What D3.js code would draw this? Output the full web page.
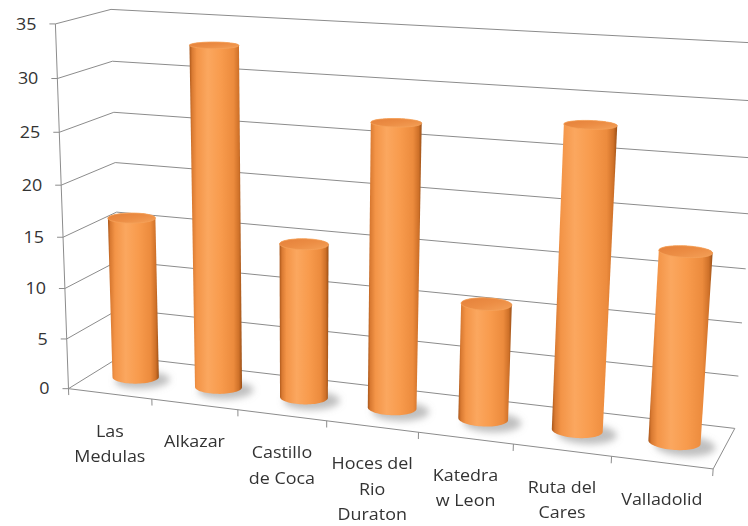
<!DOCTYPE html>
<html><head><meta charset="utf-8">
<script src="https://cdn.jsdelivr.net/npm/d3@7"></script>
<style>html,body{margin:0;padding:0;background:#fff;overflow:hidden}svg{display:block}</style>
</head><body>
<script>
// ---------- data ----------
const categories = ["Las\nMedulas", "Alkazar", "Castillo\nde Coca", "Hoces del\nRio\nDuraton", "Katedra\nw Leon", "Ruta del\nCares", "Valladolid"];
const values = [16, 33, 15, 27, 11, 28, 17.5];
const yTicks = [0, 5, 10, 15, 20, 25, 30, 35];

// ---------- layout / camera calibration (screen reference points of the 3D box) ----------
const W = 748, H = 526;
const nCat = categories.length;
const zScale = d3.scaleLinear().domain([0, 35]).range([0, 7]);
const xBand = d3.scaleBand().domain(categories).range([0, nCat]).paddingInner(0.48).paddingOuter(0.24);
const depthRatio = 1.4; // box depth in category units

const calib = [];
const frontAxisX = [71, 68, 66, 63, 61, 58, 55, 52], frontAxisY = [386, 337, 287, 237, 185, 132, 79, 25];
const backAxisX = [117, 117, 117, 116, 116, 115, 115, 114], backAxisY = [360, 310, 260, 212, 162, 112, 61, 10];
for (let i = 0; i < 8; i++) {
  calib.push([0, 0, i, frontAxisX[i], frontAxisY[i]]);
  calib.push([0, 1, i, backAxisX[i], backAxisY[i]]);
}
const floorX = [71, 155, 238, 327, 418, 513, 610, 714], floorY = [385, 398, 410, 422, 432, 446, 458, 471];
for (let k = 1; k < 8; k++) calib.push([k, 0, 0, floorX[k], floorY[k]]);
calib.push([7, 1, 0, 735, 425]);
const calibLines = [
  [[114, 10], [748, 44]], [[115, 61], [748, 100]], [[115, 112], [748, 157]],
  [[117, 260], [737, 322]], [[117, 310], [737, 374]]
].map(([A, B]) => {
  let a = A[1] - B[1], b = B[0] - A[0], c = A[0] * B[1] - B[0] * A[1];
  const n = Math.hypot(a, b); return [a / n, b / n, c / n, 6];
});

function fitCamera(pts, lines) {
  const rows = [], rhs = [];
  pts.forEach(([X, Y, Z, x, y]) => {
    rows.push([X, Y, Z, 1, 0, 0, 0, 0, -x * X, -x * Y, -x * Z]); rhs.push(x);
    rows.push([0, 0, 0, 0, X, Y, Z, 1, -y * X, -y * Y, -y * Z]); rhs.push(y);
  });
  lines.forEach(([a, b, c, wt]) => { rows.push([a * wt, 0, 0, 0, b * wt, 0, 0, 0, c * wt, 0, 0]); rhs.push(0); });
  const n = 11, M = Array.from({ length: n }, () => new Array(n + 1).fill(0));
  rows.forEach((r, i) => { for (let j = 0; j < n; j++) { for (let k = 0; k < n; k++) M[j][k] += r[j] * r[k]; M[j][n] += r[j] * rhs[i]; } });
  for (let i = 0; i < n; i++) {
    let p = i; for (let r = i + 1; r < n; r++) if (Math.abs(M[r][i]) > Math.abs(M[p][i])) p = r;
    [M[i], M[p]] = [M[p], M[i]];
    for (let r = 0; r < n; r++) { if (r === i) continue; const f = M[r][i] / M[i][i]; for (let c = i; c <= n; c++) M[r][c] -= f * M[i][c]; }
  }
  return M.map((r, i) => r[n] / r[i]).concat([1]);
}
const P = fitCamera(calib, calibLines);
function proj(X, Y, Z) {
  const d = P[8] * X + P[9] * Y + P[10] * Z + P[11];
  return [(P[0] * X + P[1] * Y + P[2] * Z + P[3]) / d, (P[4] * X + P[5] * Y + P[6] * Z + P[7]) / d];
}

// ---------- svg ----------
const svg = d3.select("body").append("svg").attr("width", W).attr("height", H);
const defs = svg.append("defs");
const gBody = defs.append("linearGradient").attr("id", "cylBody").attr("x1", 0).attr("x2", 1).attr("y1", 0).attr("y2", 0);
[[0, "#a9561a"], [0.05, "#d97a32"], [0.14, "#f39447"], [0.35, "#fba75f"], [0.6, "#f89b4d"], [0.84, "#ec8b3d"], [0.94, "#cf7129"], [1, "#9a4f16"]]
  .forEach(([o, c]) => gBody.append("stop").attr("offset", o).attr("stop-color", c));
const gTop = defs.append("linearGradient").attr("id", "cylTop").attr("x1", 0).attr("x2", 1).attr("y1", 0).attr("y2", 1);
[[0, "#e4803a"], [0.5, "#ec8d44"], [1, "#f4a058"]].forEach(([o, c]) => gTop.append("stop").attr("offset", o).attr("stop-color", c));
defs.append("filter").attr("id", "blur").attr("x", "-50%").attr("y", "-50%").attr("width", "200%").attr("height", "200%")
  .append("feGaussianBlur").attr("stdDeviation", 3.5);

const lineGen = d3.line();
const gridColor = "#8c8c8c";
const textColor = "#333333";
const fontFam = "'Open Sans', 'Noto Sans', sans-serif";

// walls gridlines
const grid = svg.append("g").attr("fill", "none").attr("stroke", gridColor).attr("stroke-width", 1);
yTicks.forEach(t => {
  const z = zScale(t);
  grid.append("path").attr("d", lineGen([proj(0, 0, z), proj(0, 1, z), proj(nCat, 1, z)]));
});
// floor outline
grid.append("path").attr("d", lineGen([proj(0, 0, 0), proj(nCat, 0, 0), proj(nCat, 1, 0)]));
// value axis
grid.append("path").attr("d", lineGen([proj(0, 0, 0), proj(0, 0, zScale(35))]));
// value ticks & labels
const yl = svg.append("g").attr("font-family", fontFam).attr("font-size", 16).attr("fill", textColor);
yTicks.forEach(t => {
  const p = proj(0, 0, zScale(t));
  grid.append("line").attr("x1", p[0] - 6).attr("x2", p[0]).attr("y1", p[1]).attr("y2", p[1]);
  yl.append("text").attr("text-anchor", "end").attr("dy", "0.36em")
    .attr("transform", `translate(${p[0] - 19},${p[1]}) scale(1.12,1)`).text(t);
});
// category ticks
for (let k = 0; k <= nCat; k++) {
  const a = proj(k, 0, 0), b = proj(k, 0, -0.13);
  grid.append("line").attr("x1", a[0]).attr("y1", a[1]).attr("x2", b[0]).attr("y2", b[1]);
}

// cylinders
const N = 72;
const rU = xBand.bandwidth() / 2, rV = rU / depthRatio;
function circle(uc, z, sU, sV, du, dv) {
  return d3.range(N).map(i => { const a = i / N * 2 * Math.PI; return proj(uc + du + sU * Math.cos(a), 0.5 + dv + sV * Math.sin(a), z); });
}
const shadows = svg.append("g").attr("filter", "url(#blur)");
const cyl = svg.append("g");
categories.forEach((c, i) => {
  const uc = xBand(c) + xBand.bandwidth() / 2;
  const zt = zScale(values[i]);
  shadows.append("path").attr("d", lineGen(circle(uc, 0, rU * 1.15, rV * 1.3, 0.12, -0.06)) + "Z").attr("fill", "#8a8a8a").attr("opacity", 0.55);
  const bottom = circle(uc, 0, rU, rV, 0, 0), top = circle(uc, zt, rU, rV, 0, 0);
  const hull = d3.polygonHull(bottom.concat(top));
  cyl.append("path").attr("d", lineGen(hull) + "Z").attr("fill", "url(#cylBody)");
  cyl.append("path").attr("d", lineGen(top) + "Z").attr("fill", "url(#cylTop)").attr("stroke", "#f5a25a").attr("stroke-width", 0.8);
});

// category labels
const xl = svg.append("g").attr("font-family", fontFam).attr("font-size", 16).attr("fill", textColor);
categories.forEach((c, i) => {
  const uc = xBand(c) + xBand.bandwidth() / 2;
  const p = proj(uc, 0, 0);
  const g = xl.append("g").attr("transform", `translate(${p[0]},0)`);
  c.split("\n").forEach((ln, j) => {
    g.append("text").attr("text-anchor", "middle").attr("dy", "0.36em")
      .attr("transform", `translate(0,${p[1] + 37 + j * 25.5}) scale(1.12,1)`).text(ln);
  });
});
</script>
</body></html>
